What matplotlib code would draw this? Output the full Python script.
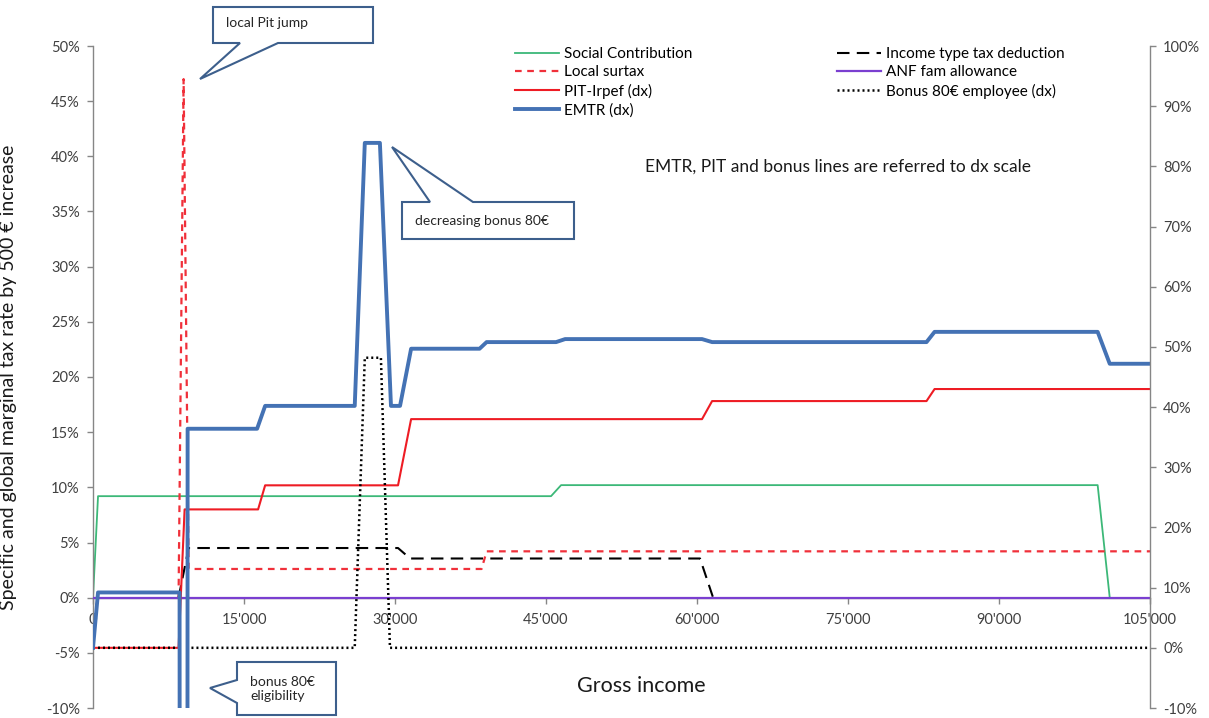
import matplotlib
matplotlib.use('Agg')
import matplotlib.pyplot as plt
from matplotlib.patches import Polygon

plt.rcParams['font.family'] = ['Lato', 'DejaVu Sans']

# gross income (euro) break points and marginal rates (%) per series
# left scale (zero stretches lying under the ANF line are left out)
inc_sc = [0, 500, 45500, 46500, 99800, 101000]
social_contrib = [0, 9.2, 9.2, 10.2, 10.2, 0]

inc_ls = [8500, 9000, 9500, 38600, 39100, 105000]
local_surtax = [0, 47, 2.6, 2.6, 4.2, 4.2]

inc_ded = [8500, 9500, 30300, 31500, 60300, 61600]
income_deduction = [0, 4.5, 4.5, 3.55, 3.55, 0]

inc_anf = [0, 105000]
anf_allowance = [0, 0]

# right (dx) scale
inc_pit = [0, 8500, 9100, 16400, 17100, 30300, 31600, 60500, 61500,
           82800, 83600, 105000]
pit_irpef = [0, 0, 23, 23, 27, 27, 38, 38, 41, 41, 43, 43]

inc_bonus = [0, 8600, 8700, 9300, 9400, 26000, 27000, 28600, 29500, 105000]
bonus80 = [0, 0, -300, -300, 0, 0, 48.2, 48.2, 0, 0]

inc_emtr = [0, 500, 8600, 8700, 9300, 9400, 16300, 17100, 26000, 27000,
            28500, 29600, 30500, 31600, 38400, 39100, 46000, 46900, 60500,
            61500, 82800, 83600, 99800, 101000, 105000]
emtr = [0, 9.2, 9.2, -300, -300, 36.4, 36.4, 40.2, 40.2, 83.9,
        83.9, 40.2, 40.2, 49.7, 49.7, 50.8, 50.8, 51.3, 51.3,
        50.8, 50.8, 52.5, 52.5, 47.2, 47.2]

x_ticks = [0, 15000, 30000, 45000, 60000, 75000, 90000, 105000]
x_ticklabels = ['0', "15'000", "30'000", "45'000", "60'000", "75'000",
                "90'000", "105'000"]
left_ticks = list(range(-10, 51, 5))
right_ticks = list(range(-10, 101, 10))

W, H = 1209, 718
fig = plt.figure(figsize=(W / 100, H / 100), dpi=100)
ax = fig.add_axes([93 / W, 1 - 708 / H, (1150 - 93) / W, (708 - 46) / H])
ax2 = ax.twinx()

grey = '#868686'
txt = '#404040'

l_sc, = ax.plot(inc_sc, social_contrib, color='#3cb878', lw=1.3,
                label='Social Contribution', zorder=2)
l_ls, = ax.plot(inc_ls, local_surtax, color='#f0303a', lw=1.6,
                dashes=(3, 2.5), label='Local surtax', zorder=2)
l_ded, = ax.plot(inc_ded, income_deduction, color='black', lw=1.5,
                 dashes=(6, 3.5), label='Income type tax deduction', zorder=2)
l_anf, = ax.plot(inc_anf, anf_allowance, color='#7a3fd0', lw=1.6,
                 label='ANF fam allowance', zorder=3)

l_pit, = ax2.plot(inc_pit, pit_irpef, color='#ee1c24', lw=1.5,
                  label='PIT-Irpef (dx)')
l_bon, = ax2.plot(inc_bonus, bonus80, color='black', lw=1.8,
                  dashes=(0.8, 1.2), label='Bonus 80€ employee (dx)')
l_emtr, = ax2.plot(inc_emtr, emtr, color='#4472b4', lw=2.8,
                   label='EMTR (dx)')

ax.set_xlim(0, 105000)
ax.set_ylim(-10, 50)
ax2.set_ylim(-10, 100)

ax.set_xticks(x_ticks)
ax.set_xticklabels(x_ticklabels)
ax.set_yticks(left_ticks)
ax.set_yticklabels([f'{v}%' for v in left_ticks])
ax2.set_yticks(right_ticks)
ax2.set_yticklabels([f'{v}%' for v in right_ticks])

for a in (ax, ax2):
    a.spines['top'].set_visible(False)
    for s in a.spines.values():
        s.set_color(grey)
        s.set_linewidth(1)
ax2.spines['bottom'].set_visible(False)
ax2.spines['left'].set_visible(False)
ax.spines['right'].set_visible(False)
ax.spines['bottom'].set_position(('data', 0))

ax.tick_params(axis='x', direction='out', length=4, width=1, color=grey,
               labelsize=10.5, labelcolor=txt, pad=7)
ax.tick_params(axis='y', direction='out', length=4.5, width=1, color=grey,
               labelsize=10.5, labelcolor=txt, pad=5)
ax2.tick_params(axis='y', direction='out', length=4.5, width=1, color=grey,
                labelsize=10.5, labelcolor=txt, pad=5)

ax.set_ylabel('Specific and global marginal tax rate by 500 € increase',
              fontsize=14, color='#1a1a1a')
ax.yaxis.set_label_coords(-76 / (1150 - 93), 0.5)
fig.text(641 / W, 1 - 686 / H, 'Gross income', fontsize=15.5,
         color='#1a1a1a', ha='center', va='center')

fs_leg = 11
leg_kw = dict(loc='upper left', bbox_transform=fig.transFigure,
              frameon=False, fontsize=fs_leg, handlelength=2.9,
              handletextpad=0.3, labelspacing=0.28, borderpad=0,
              borderaxespad=0)
leg1 = ax2.legend(handles=[l_sc, l_ls, l_pit, l_emtr],
                  bbox_to_anchor=(515 / W, 1 - 47 / H), **leg_kw)
ax2.add_artist(leg1)
ax2.legend(handles=[l_ded, l_anf, l_bon],
           bbox_to_anchor=(837 / W, 1 - 47 / H), **leg_kw)

fig.text(645 / W, 1 - 167 / H,
         'EMTR, PIT and bonus lines are referred to dx scale',
         fontsize=12.5, color='#1a1a1a', va='center')


def fpt(p):
    return (p[0] / W, 1 - p[1] / H)


def callout(points, text, text_xy):
    poly = Polygon([fpt(p) for p in points], closed=True,
                   transform=fig.transFigure, facecolor='white',
                   edgecolor='#3d5f8c', lw=1.5, zorder=10)
    fig.add_artist(poly)
    fig.text(*fpt(text_xy), text, fontsize=10, color='#262626',
             va='center', ha='left', zorder=11, linespacing=1.3)


callout([(213, 7), (373, 7), (373, 43), (278, 43), (200, 79),
         (240, 43), (213, 43)], 'local Pit jump', (226, 23))
callout([(402, 202), (430, 202), (392, 147), (473, 202), (574, 202),
         (574, 239), (402, 239)], 'decreasing bonus 80€', (415, 221))
callout([(237, 662), (336, 662), (336, 715), (237, 715), (237, 703),
         (210, 688), (237, 680)], 'bonus 80€\neligibility', (250, 689))

fig.savefig('out.png', dpi=100)
